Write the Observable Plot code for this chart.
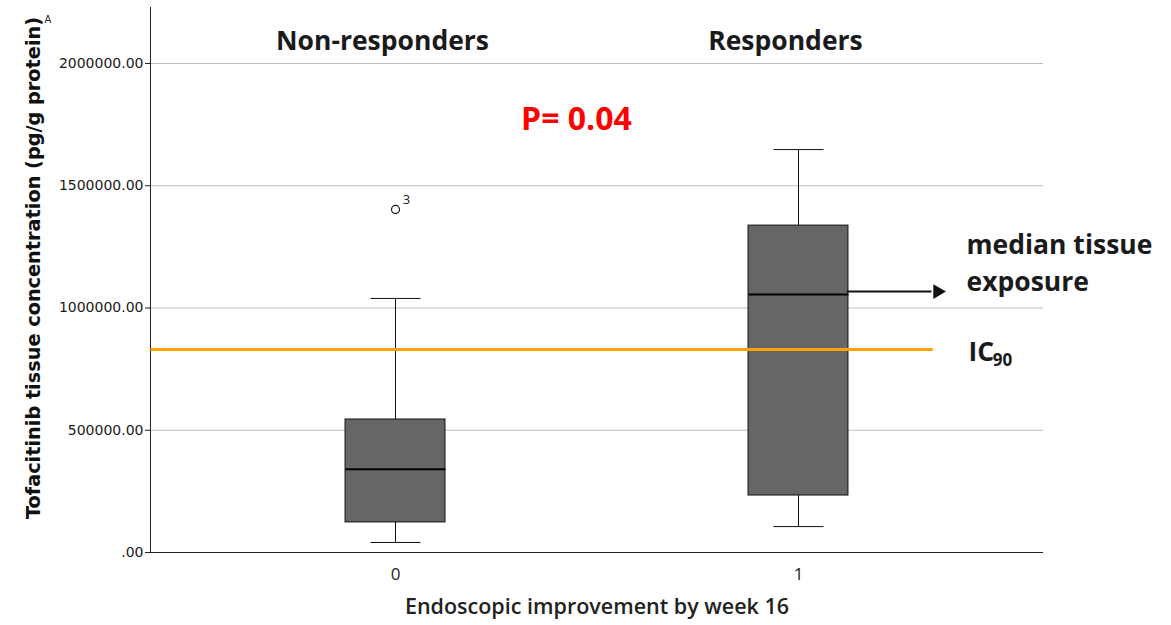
<!DOCTYPE html>
<html><head><meta charset="utf-8">
<script src="https://cdn.jsdelivr.net/npm/d3@7"></script>
<script src="https://cdn.jsdelivr.net/npm/@observablehq/plot@0.6"></script>
<style>body{margin:0;background:#fff}</style>
</head><body><div id="chart"></div>
<script>
// ---- data ----
const groups = [0, 1];
const groupNames = ["Non-responders", "Responders"];
const whiskerLow = [41000, 106000];
const q1 = [123000, 233000];
const median = [340000, 1055000];
const q3 = [544000, 1337000];
const whiskerHigh = [1039000, 1648000];
const outlierGroup = [0];
const outlierValue = [1403000];
const outlierLabel = ["3"];
const ic90 = [830000];
const yTicks = [0, 500000, 1000000, 1500000, 2000000];
const xTickLabels = ["0", "1"];
const pValueText = ["P= 0.04"];
const yTitle = "Tofacitinib tissue concentration (pg/g protein)";
const xTitle = "Endoscopic improvement by week 16";

const boxes = groups.map((g, i) => ({g, lo: whiskerLow[i], q1: q1[i], med: median[i], q3: q3[i], hi: whiskerHigh[i], name: groupNames[i], tick: xTickLabels[i]}));
const outliers = outlierGroup.map((g, i) => ({g, v: outlierValue[i], label: outlierLabel[i]}));

const xMin = -0.608, xMax = 1.608;
const half = 0.124, capHalf = 0.062;
const bold = "'Open Sans', sans-serif";
const resp = boxes[1];

const chart = Plot.plot({
  width: 1171, height: 625,
  marginLeft: 150, marginRight: 128, marginTop: 7, marginBottom: 73,
  style: {fontFamily: "'DejaVu Sans', sans-serif", background: "#fff"},
  x: {type: "linear", domain: [xMin, xMax], axis: null},
  y: {domain: [0, 2229000], axis: null},
  marks: [
    Plot.ruleY(yTicks.filter(d => d > 0), {stroke: "#bdbdbd", strokeWidth: 1.2}),
    Plot.axisY(yTicks, {tickFormat: d => d === 0 ? ".00" : d.toFixed(2), tickSize: 5, tickPadding: 2, fontSize: 14, fill: "#1a1a1a", stroke: "#222", label: null}),
    Plot.ruleX([xMin], {y1: 0, y2: 2229000, stroke: "#222"}),
    Plot.ruleY([0], {stroke: "#222"}),
    // whiskers
    Plot.ruleX(boxes, {x: "g", y1: "lo", y2: "q1", stroke: "#111"}),
    Plot.ruleX(boxes, {x: "g", y1: "q3", y2: "hi", stroke: "#111"}),
    Plot.link(boxes, {x1: d => d.g - capHalf, x2: d => d.g + capHalf, y1: "lo", y2: "lo", stroke: "#111"}),
    Plot.link(boxes, {x1: d => d.g - capHalf, x2: d => d.g + capHalf, y1: "hi", y2: "hi", stroke: "#111"}),
    // boxes
    Plot.rect(boxes, {x1: d => d.g - half, x2: d => d.g + half, y1: "q1", y2: "q3", fill: "#666666", stroke: "#111"}),
    // IC90
    Plot.link(ic90, {x1: xMin, x2: 1.333, y1: d => d, y2: d => d, stroke: "#FFA500", strokeWidth: 3}),
    Plot.link(boxes, {x1: d => d.g - half, x2: d => d.g + half, y1: "med", y2: "med", stroke: "#000", strokeWidth: 2}),
    // outliers
    Plot.dot(outliers, {x: "g", y: "v", r: 4, stroke: "#111", fill: "#fff", strokeWidth: 1.2}),
    Plot.text(outliers, {x: "g", y: "v", text: "label", dx: 11, dy: -10, fontSize: 13, fill: "#222", fontFamily: "'Open Sans', sans-serif"}),
    // x tick labels
    Plot.text(boxes, {x: "g", frameAnchor: "bottom", text: "tick", dy: 27, fontSize: 17, fill: "#222", fontFamily: "'Liberation Sans Narrow', 'Open Sans', sans-serif"}),
    // x title
    Plot.text([xTitle], {x: 0.5, frameAnchor: "bottom", dy: 61, fontSize: 21.5, fontWeight: 600, fill: "#222", fontFamily: bold}),
    // y title
    Plot.text([yTitle], {frameAnchor: "left", textAnchor: "middle", dx: -117, dy: -12, rotate: -90, fontSize: 19.3, fontWeight: "bold", fill: "#111"}),
    Plot.text(["A"], {frameAnchor: "top-left", dx: -106, dy: 8, fontSize: 10, fill: "#222"}),
    // group names
    Plot.text(boxes, {x: "g", frameAnchor: "top", text: "name", dx: -13, dy: 24, fontSize: 26.5, fontWeight: "bold", fill: "#1a1a1a", fontFamily: bold}),
    // p value
    Plot.text(pValueText, {x: 0.449, y: 1771000, fontSize: 32, fontWeight: "bold", fill: "#FF0000", fontFamily: bold}),
    // median annotation arrow
    Plot.link([resp], {x1: 1.12, x2: 1.33, y1: "med", y2: "med", dy: -3, stroke: "#111", strokeWidth: 2}),
    Plot.dot([resp], {x: 1.345, y: "med", dy: -3, symbol: "triangle2", rotate: 90, r: 7, fill: "#111"}),
    Plot.text([resp], {x: 1.417, y: "med", dy: -49, text: () => "median tissue", textAnchor: "start", fontSize: 26.5, fontWeight: "bold", fill: "#1a1a1a", fontFamily: bold}),
    Plot.text([resp], {x: 1.417, y: "med", dy: -12, text: () => "exposure", textAnchor: "start", fontSize: 26.5, fontWeight: "bold", fill: "#1a1a1a", fontFamily: bold}),
    Plot.text(ic90, {x: 1.422, y: d => d, dy: 3, text: () => "IC", textAnchor: "start", fontSize: 26.5, fontWeight: "bold", fill: "#1a1a1a", fontFamily: bold}),
    Plot.text(ic90, {x: 1.482, y: d => d, dy: 11, text: () => "90", textAnchor: "start", fontSize: 17, fontWeight: "bold", fill: "#1a1a1a", fontFamily: bold})
  ]
});
document.getElementById("chart").appendChild(chart);
</script>
</body></html>
